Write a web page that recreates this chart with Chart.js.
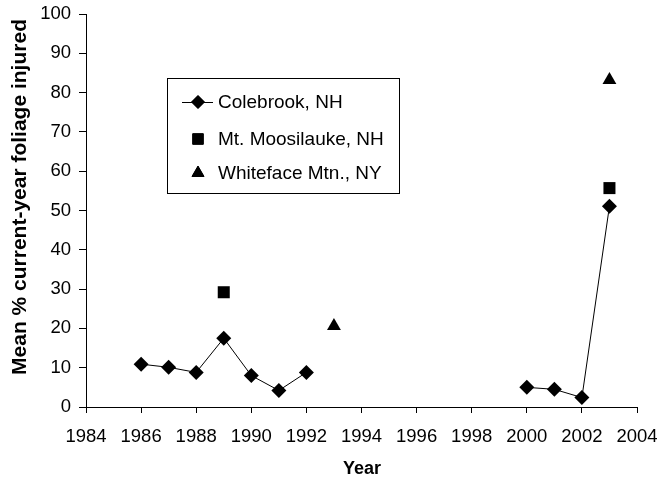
<!DOCTYPE html>
<html>
<head>
<meta charset="utf-8">
<script src="https://cdn.jsdelivr.net/npm/chart.js@4"></script>
<style>
  html, body { margin: 0; padding: 0; background: #fff; }
  #wrap { width: 660px; height: 478px; }
</style>
</head>
<body>
<div id="wrap"><canvas id="chart" width="660" height="478"></canvas></div>
<script>
// values
const colebrookYears = [1986, 1987, 1988, 1989, 1990, 1991, 1992, 2000, 2001, 2002, 2003];
const colebrookValues = [10.9, 10.1, 8.8, 17.5, 8.0, 4.2, 8.8, 5.0, 4.5, 2.4, 51.1];
const moosilaukeYears = [1989, 2003];
const moosilaukeValues = [29.2, 55.7];
const whitefaceYears = [1993, 2003];
const whitefaceValues = [20.6, 83.2];
const legendLabels = ["Colebrook, NH", "Mt. Moosilauke, NH", "Whiteface Mtn., NY"];
const xTitle = "Year";
const yTitle = "Mean % current-year foliage injured";

const FONT = "'Liberation Sans', Arial, sans-serif";

function toPoints(xs, ys) {
  return xs.map((x, i) => ({ x: x, y: ys[i] }));
}

// legend box inside the plot + axis titles, like the original
const extras = {
  id: "extras",
  afterDraw(chart) {
    const ctx = chart.ctx;
    ctx.save();
    ctx.fillStyle = "#fff";
    ctx.fillRect(167.5, 78.5, 232, 115);
    ctx.strokeStyle = "#000";
    ctx.lineWidth = 1;
    ctx.strokeRect(167.5, 78.5, 232, 115);

    const rows = [102, 139, 173];
    const styles = ["rectRot", "rect", "triangle"];
    const radius = [6.5, 7.5, 7];
    rows.forEach((y, i) => {
      if (i === 0) {
        ctx.beginPath();
        ctx.moveTo(182, y + 0.5);
        ctx.lineTo(213, y + 0.5);
        ctx.strokeStyle = "#000";
        ctx.stroke();
      }
      ctx.fillStyle = "#000";
      Chart.helpers.drawPoint(ctx, { pointStyle: styles[i], radius: radius[i], borderWidth: 1 }, 198, y);
      ctx.fill();
      ctx.font = "19px " + FONT;
      ctx.textBaseline = "middle";
      ctx.textAlign = "left";
      ctx.fillText(legendLabels[i], 218, y + 1);
    });

    // axis titles
    ctx.fillStyle = "#000";
    ctx.textAlign = "center";
    ctx.textBaseline = "middle";
    ctx.font = "bold 18px " + FONT;
    ctx.fillText(xTitle, 362, 469);
    ctx.translate(20, 197);
    ctx.rotate(-Math.PI / 2);
    ctx.font = "bold 21px " + FONT;
    ctx.fillText(yTitle, 0, 0);
    ctx.restore();
  }
};

function noPadding(scale) {
  scale.paddingLeft = 0;
  scale.paddingRight = 0;
  scale.paddingTop = 0;
  scale.paddingBottom = 0;
}

new Chart(document.getElementById("chart"), {
  type: "scatter",
  data: {
    datasets: [
      {
        label: legendLabels[0],
        data: toPoints(colebrookYears, colebrookValues),
        showLine: true,
        borderColor: "#000",
        borderWidth: 1,
        backgroundColor: "#000",
        pointStyle: "rectRot",
        pointRadius: 7.5,
        pointBorderWidth: 0,
        segment: {
          borderColor: c => (c.p1.parsed.x - c.p0.parsed.x > 2 ? "rgba(0,0,0,0)" : "#000")
        }
      },
      {
        label: legendLabels[1],
        data: toPoints(moosilaukeYears, moosilaukeValues),
        backgroundColor: "#000",
        borderColor: "#000",
        pointStyle: "rect",
        pointRadius: 8.5,
        pointBorderWidth: 0
      },
      {
        label: legendLabels[2],
        data: toPoints(whitefaceYears, whitefaceValues),
        backgroundColor: "#000",
        borderColor: "#000",
        pointStyle: "triangle",
        pointRadius: 8,
        pointBorderWidth: 0
      }
    ]
  },
  options: {
    responsive: false,
    animation: false,
    layout: { padding: { top: 14, right: 23, left: 0, bottom: 0 } },
    plugins: {
      legend: { display: false },
      tooltip: { enabled: false }
    },
    scales: {
      x: {
        type: "linear",
        min: 1984,
        max: 2004,
        ticks: {
          stepSize: 2,
          color: "#000",
          font: { family: FONT, size: 18.5 },
          padding: 13,
          maxRotation: 0,
          callback: v => String(v)
        },
        grid: { drawOnChartArea: false, drawTicks: true, tickLength: 6, color: "#000" },
        border: { color: "#000", width: 1 },
        afterFit(scale) { scale.height = 71; noPadding(scale); }
      },
      y: {
        min: 0,
        max: 100,
        ticks: {
          stepSize: 10,
          color: "#000",
          font: { family: FONT, size: 18.5 },
          padding: 8
        },
        grid: { drawOnChartArea: false, drawTicks: true, tickLength: 7, color: "#000" },
        border: { color: "#000", width: 1 },
        afterFit(scale) { scale.width = 86; noPadding(scale); }
      }
    }
  },
  plugins: [extras]
});
</script>
</body>
</html>
